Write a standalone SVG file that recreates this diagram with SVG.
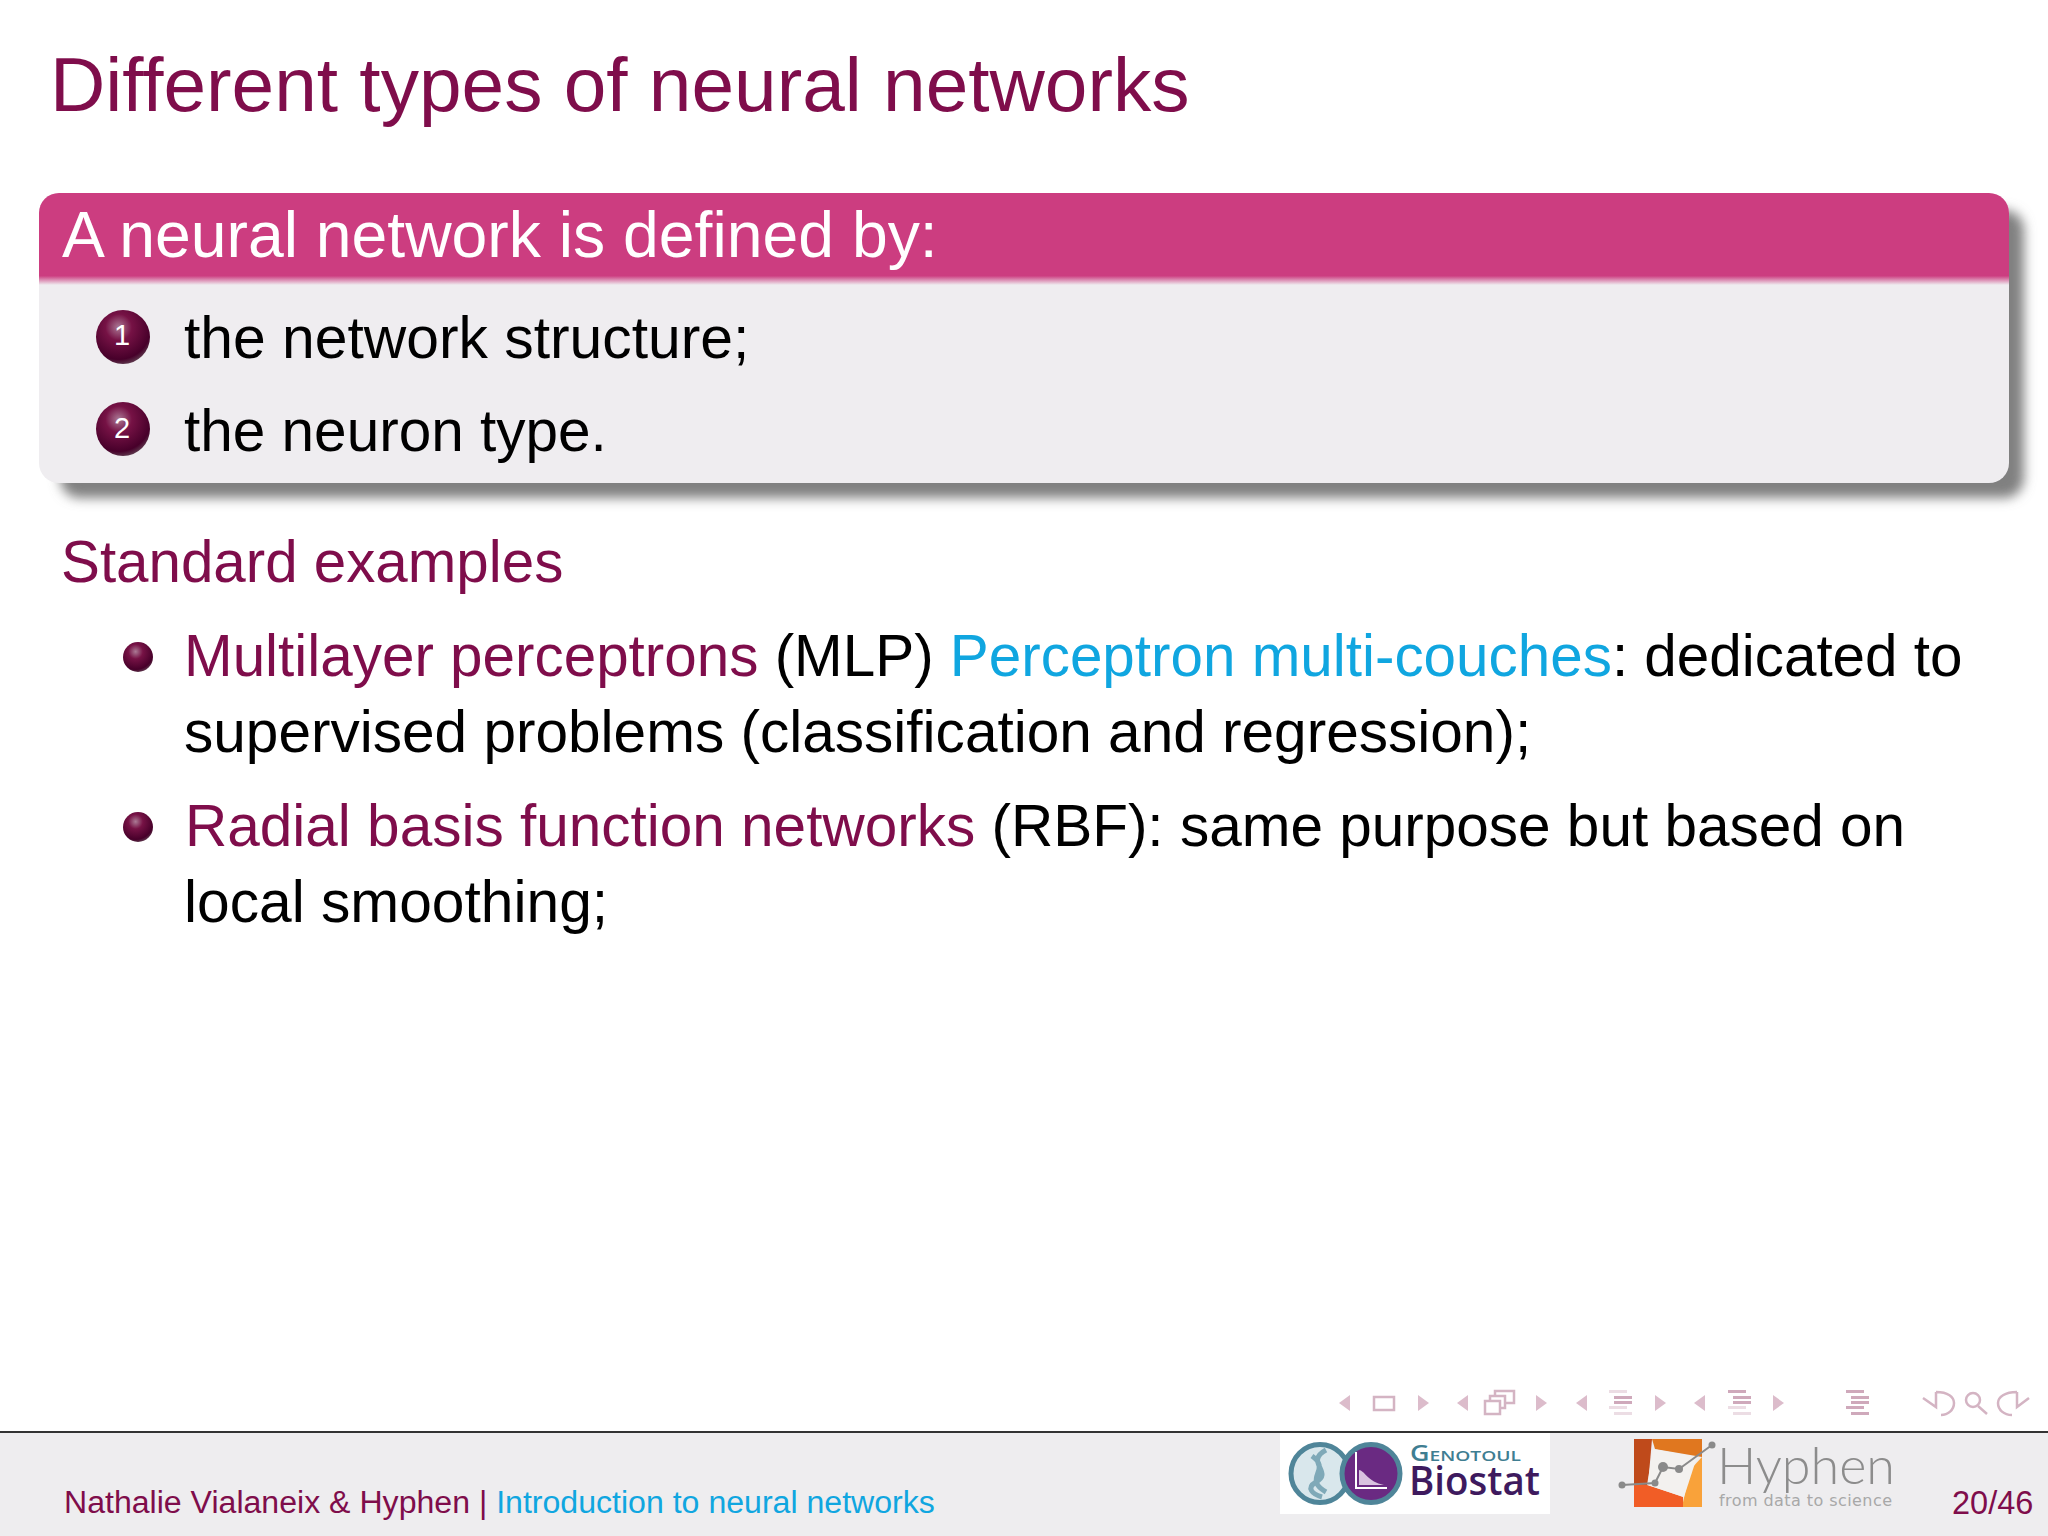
<svg xmlns="http://www.w3.org/2000/svg" width="2048" height="1536" viewBox="0 0 2048 1536">
<defs>
<radialGradient id="ball" cx="0.42" cy="0.32" r="0.7"><stop offset="0" stop-color="#ab7a95"/><stop offset="0.35" stop-color="#761245"/><stop offset="0.85" stop-color="#47002a"/><stop offset="1" stop-color="#5e3a4e"/></radialGradient>
<linearGradient id="head" x1="0" y1="0" x2="0" y2="1"><stop offset="0" stop-color="#cc3d80"/><stop offset="0.9" stop-color="#cc3d80"/><stop offset="1" stop-color="#efedf0"/></linearGradient>
<filter id="sh" x="-3%" y="-10%" width="106%" height="125%"><feGaussianBlur stdDeviation="6"/></filter>
</defs>
<style>
text{font-family:"Liberation Sans",Arial,sans-serif;fill:#000}
.m{fill:#7f0d4b}.c{fill:#10a6e0}
.b{font-size:58.5px}
.w{fill:#fff}
.num{font-size:29px;fill:#fff;text-anchor:middle}
.nav{fill:none;stroke:#d4b4c3;stroke-width:2.5}
.navf{fill:#dcbccb}
.navl{fill:#cfa9bb}
.navp{fill:#ecdde4}
</style>
<rect width="2048" height="1536" fill="#fff"/>
<text id="title" class="m" x="50" y="111" font-size="76.6">Different types of neural networks</text>
<g id="block">
<rect x="60" y="210" width="1964" height="288" rx="20" fill="#808080" filter="url(#sh)"/>
<rect x="39" y="193" width="1970" height="290" rx="20" fill="#efedf0"/>
<path d="M39 285V213a20 20 0 0 1 20-20H1989a20 20 0 0 1 20 20V285Z" fill="url(#head)"/>
<text class="w" x="62" y="257" font-size="64.3">A neural network is defined by:</text>
<circle cx="123" cy="337" r="27" fill="url(#ball)"/>
<text class="num" x="122" y="345">1</text>
<text x="184" y="358" font-size="58.8">the network structure;</text>
<circle cx="123" cy="429" r="27" fill="url(#ball)"/>
<text class="num" x="122" y="438">2</text>
<text class="b" x="184" y="451">the neuron type.</text>
</g>
<text class="m" x="61" y="582" font-size="58.3">Standard examples</text>
<g id="list">
<circle cx="138" cy="657" r="15" fill="url(#ball)"/>
<text x="184" y="676" font-size="58.4"><tspan class="m">Multilayer perceptrons</tspan> (MLP) <tspan class="c">Perceptron multi-couches</tspan>: dedicated to</text>
<text x="184" y="752" font-size="58.55">supervised problems (classification and regression);</text>
<circle cx="138" cy="827" r="15" fill="url(#ball)"/>
<text class="b" x="185" y="846"><tspan class="m">Radial basis function networks</tspan> (RBF): same purpose but based on</text>
<text x="184" y="922" font-size="58.7">local smoothing;</text>
</g>
<g id="footer">
<rect y="1432" width="2048" height="104" fill="#eeedef"/>
<line x1="0" x2="2048" y1="1432" y2="1432" stroke="#333" stroke-width="2"/>
<text x="64" y="1513" font-size="32.1"><tspan class="m">Nathalie Vialaneix &amp; Hyphen</tspan><tspan class="m"> | </tspan><tspan class="c">Introduction to neural networks</tspan></text>
<text x="1952" y="1514" font-size="32.5" class="m">20/46</text>
</g>
<g id="nav">
<path class="navf" d="M1350 1395V1411L1339 1403Z"/>
<rect class="nav" x="1374" y="1397" width="20" height="13"/>
<path class="navf" d="M1418 1395V1411L1429 1403Z"/>
<path class="navf" d="M1468 1395V1411L1457 1403Z"/>
<path class="nav" d="M1485 1401H1500V1414H1485ZM1490 1401V1396H1505V1408H1500M1495 1396V1391H1514V1403H1505"/>
<path class="navf" d="M1536 1395V1411L1547 1403Z"/>
<path class="navf" d="M1587 1395V1411L1576 1403Z"/>
<g class="navp"><rect x="1609" y="1390" width="18" height="3"/><rect x="1609" y="1406" width="18" height="3"/><rect x="1614" y="1412" width="18" height="3"/></g>
<g class="navl"><rect x="1614" y="1396" width="18" height="3"/><rect x="1614" y="1401" width="18" height="3"/></g>
<path class="navf" d="M1655 1395V1411L1666 1403Z"/>
<path class="navf" d="M1705 1395V1411L1694 1403Z"/>
<g class="navl"><rect x="1728" y="1390" width="18" height="3"/><rect x="1733" y="1396" width="18" height="3"/><rect x="1733" y="1401" width="18" height="3"/></g>
<g class="navp"><rect x="1728" y="1406" width="18" height="3"/><rect x="1733" y="1412" width="18" height="3"/></g>
<path class="navf" d="M1773 1395V1411L1784 1403Z"/>
<g class="navl"><rect x="1846" y="1390" width="18" height="3"/><rect x="1851" y="1396" width="18" height="3"/><rect x="1851" y="1401" width="18" height="3"/><rect x="1846" y="1406" width="18" height="3"/><rect x="1851" y="1412" width="18" height="3"/></g>
<path class="nav" d="M1936 1392C1948 1392 1954 1397 1954 1403C1954 1410 1948 1415 1941 1415M1923 1398L1936 1407V1392"/>
<circle class="nav" cx="1973" cy="1400" r="7"/><path class="nav" stroke-width="3.5" d="M1978 1406L1987 1414"/>
<path class="nav" d="M2017 1392C2005 1392 1998 1397 1998 1403C1998 1410 2004 1415 2012 1415M2029 1398L2017 1407V1392"/>
</g>
<g id="biostat-logo">
<rect x="1280" y="1433" width="270" height="81" fill="#fff"/>
<circle cx="1320" cy="1473.5" r="29" fill="#d9e7ec" stroke="#4f8599" stroke-width="5"/>
<path d="M1326 1450C1304 1462 1334 1472 1316 1482C1306 1488 1312 1494 1322 1497M1312 1456C1332 1470 1302 1478 1326 1492" fill="none" stroke="#7fa9b8" stroke-width="5"/>
<circle cx="1371" cy="1473.5" r="29" fill="#6a2a82" stroke="#4f8599" stroke-width="5"/>
<path d="M1356 1452V1488H1387" fill="none" stroke="#fff" stroke-width="2"/>
<path d="M1359 1485V1470C1364 1470 1368 1482 1384 1485Z" fill="#d9c3e0"/>
<text x="1410" y="1461" font-size="21" font-weight="600" textLength="111" lengthAdjust="spacingAndGlyphs" style="font-family:'Open Sans',sans-serif;font-variant:small-caps;fill:#3f7e92">Genotoul</text>
<text x="1409" y="1495" font-size="40" font-weight="600" textLength="131" lengthAdjust="spacingAndGlyphs" style="font-family:'Open Sans',sans-serif;fill:#3e1a5e">Biostat</text>
</g>
<g id="hyphen-logo">
<path d="M1634 1439H1652L1648 1485H1634Z" fill="#bf4a1b"/>
<path d="M1652 1439H1702V1457L1655 1449Z" fill="#e0771f"/>
<path d="M1702 1457V1507H1682L1690 1470Z" fill="#f9a23a"/>
<path d="M1634 1485H1648L1683 1497V1507H1634Z" fill="#f15d26"/>
<path d="M1653 1449L1697 1457L1684 1497L1647 1485Z" fill="#f3f1ef"/>
<path d="M1622 1485L1655 1483L1663 1467L1679 1469L1712 1445" fill="none" stroke="#8a8a8a" stroke-width="2"/>
<g fill="#8a8a8a"><circle cx="1622" cy="1485" r="3.5"/><circle cx="1655" cy="1483" r="3.5"/><circle cx="1663" cy="1467" r="5"/><circle cx="1679" cy="1469" r="4"/><circle cx="1712" cy="1445" r="3.5"/></g>
<text x="1717" y="1484" font-size="52" textLength="178" lengthAdjust="spacingAndGlyphs" style="font-family:Lato,sans-serif;font-weight:300;fill:#8c8c8c">Hyphen</text>
<text x="1719" y="1506" font-size="16" textLength="173" style="font-family:'DejaVu Sans',sans-serif;fill:#a8a8a8">from data to science</text>
</g>
</svg>
